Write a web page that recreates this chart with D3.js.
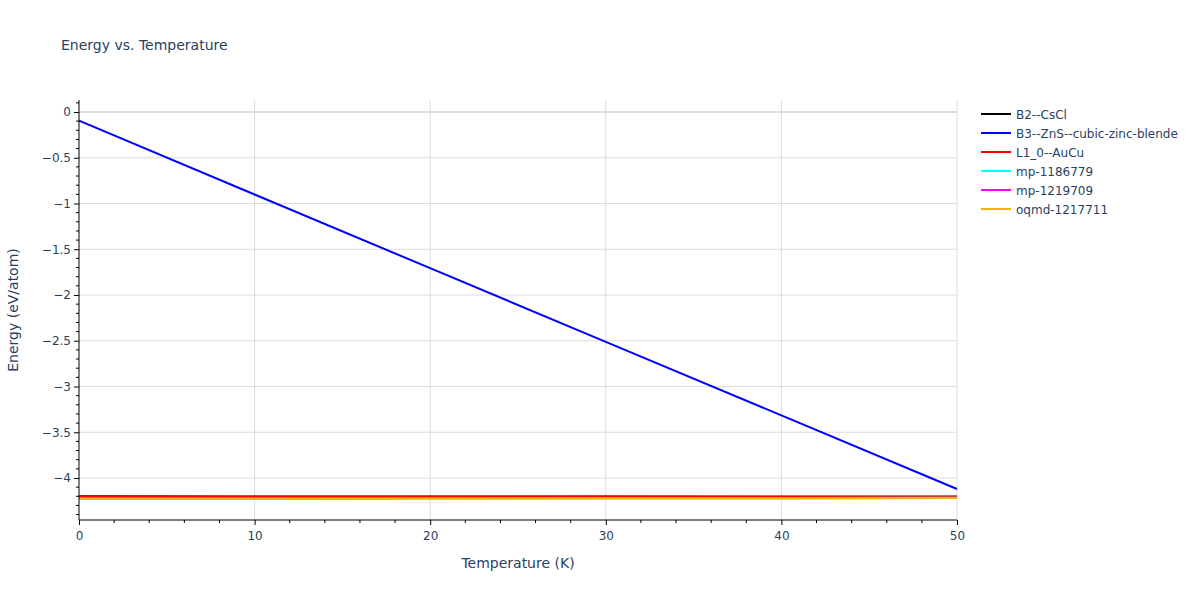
<!DOCTYPE html>
<html><head><meta charset="utf-8">
<script src="https://cdn.jsdelivr.net/npm/d3@7"></script>
<style>body{margin:0;background:#fff;} text{font-family:"DejaVu Sans",Verdana,sans-serif;}</style>
</head><body><svg id="c" width="1200" height="600"></svg>
<script>
const temps = [0, 10, 20, 30, 40, 50];
const seriesNames = ["B2--CsCl","B3--ZnS--cubic-zinc-blende","L1_0--AuCu","mp-1186779","mp-1219709","oqmd-1217711"];
const seriesColors = ["#000000","#0000ff","#ff0000","#00ffff","#ff00ff","#f0b400"];
const eB2 = [-4.200, -4.201, -4.202, -4.203, -4.204, -4.205];
const eB3 = [-0.095, -0.902, -1.707, -2.512, -3.316, -4.120];
const eL10 = [-4.204, -4.204, -4.204, -4.203, -4.203, -4.203];
const eMp1186779 = [-4.222, -4.221, -4.220, -4.219, -4.218, -4.217];
const eMp1219709 = [-4.224, -4.223, -4.222, -4.221, -4.220, -4.219];
const eOqmd = [-4.228, -4.226, -4.224, -4.222, -4.220, -4.218];
const allSeries = [eB2, eB3, eL10, eMp1186779, eMp1219709, eOqmd];
const xTicks = [0, 10, 20, 30, 40, 50];
const yTicks = [0, -0.5, -1, -1.5, -2, -2.5, -3, -3.5, -4];

const svg = d3.select("#c");
const FONT = '"DejaVu Sans",Verdana,sans-serif';
const L = 79, R = 957, T = 100, B = 520;
const x = d3.scaleLinear().domain([0, 50]).range([L, R]);
const y = d3.scaleLinear().domain([-4.459, 0.131]).range([B, T]);
const txt = "#2a3f5f";

// grid
svg.append("g").selectAll("line").data(xTicks.slice(1)).join("line")
  .attr("x1", d => x(d)).attr("x2", d => x(d)).attr("y1", T).attr("y2", B)
  .attr("stroke", "#dcdcdc").attr("stroke-width", 1);
svg.append("g").selectAll("line").data(yTicks).join("line")
  .attr("x1", L).attr("x2", R).attr("y1", d => y(d)).attr("y2", d => y(d))
  .attr("stroke", "#dcdcdc").attr("stroke-width", d => d === 0 ? 2 : 1);

// lines
const line = d3.line().x((d, i) => x(temps[i])).y(d => y(d));
allSeries.forEach((s, k) => {
  svg.append("path").datum(s).attr("d", line).attr("fill", "none")
    .attr("stroke", seriesColors[k]).attr("stroke-width", 2);
});

// axes
const fmt = d => d3.format("")(d).replace("-", "\u2212");
const xAxis = d3.axisBottom(x).tickValues(xTicks).tickSize(5).tickPadding(6).tickFormat(d3.format("d"));
const gx = svg.append("g").attr("transform", `translate(0,${B})`).call(xAxis);
const xMinor = d3.range(0, 51, 2).filter(v => v % 10 !== 0);
gx.append("g").selectAll("line").data(xMinor).join("line")
  .attr("x1", d => x(d)).attr("x2", d => x(d)).attr("y1", 0).attr("y2", 3).attr("stroke", "#000");
const yAxis = d3.axisLeft(y).tickValues(yTicks).tickSize(5).tickPadding(3).tickFormat(fmt);
const gy = svg.append("g").attr("transform", `translate(${L},0)`).call(yAxis);
const yMinor = d3.range(-44, 2).map(v => v / 10).filter(v => Math.abs(Math.round(v * 10) % 5) !== 0);
gy.append("g").selectAll("line").data(yMinor).join("line")
  .attr("x1", 0).attr("x2", -3).attr("y1", d => y(d)).attr("y2", d => y(d)).attr("stroke", "#000");
[gx, gy].forEach(g => {
  g.select(".domain").attr("stroke", "#000");
  g.selectAll(".tick line").attr("stroke", "#000");
  g.selectAll("text").attr("fill", txt).style("font-size", "12px").style("font-family", FONT);
});
gx.select(".domain").attr("d", `M${L},0H${R}`);
gy.select(".domain").attr("d", `M0,${T}V${B}`);

// titles
svg.append("text").attr("x", 61).attr("y", 50).text("Energy vs. Temperature")
  .attr("fill", txt).style("font-size", "14px");
svg.append("text").attr("x", (L + R) / 2).attr("y", 568).attr("text-anchor", "middle")
  .text("Temperature (K)").attr("fill", txt).style("font-size", "14px");
svg.append("text").attr("transform", `translate(18,${(T + B) / 2}) rotate(-90)`).attr("text-anchor", "middle")
  .text("Energy (eV/atom)").attr("fill", txt).style("font-size", "14px");

// legend
const lg = svg.append("g").attr("transform", "translate(981,114)");
seriesNames.forEach((n, i) => {
  const g = lg.append("g").attr("transform", `translate(0,${i * 19})`);
  g.append("line").attr("x1", 0).attr("x2", 30).attr("y1", 0).attr("y2", 0)
    .attr("stroke", seriesColors[i]).attr("stroke-width", 2);
  g.append("text").attr("x", 35).attr("y", 4.5).text(n).attr("fill", txt).style("font-size", "12px");
});
</script></body></html>
